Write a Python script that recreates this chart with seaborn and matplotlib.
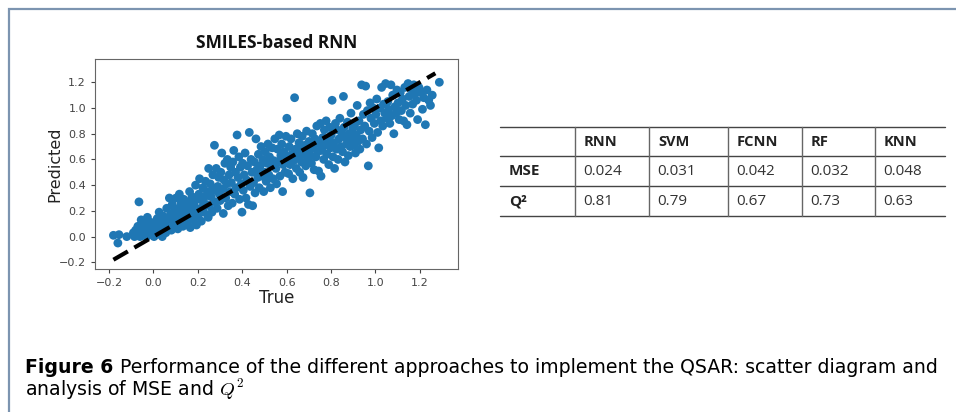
import matplotlib
matplotlib.use("Agg")
import matplotlib.pyplot as plt
import pandas as pd
import seaborn as sns

# scatter values (true value, predicted value)
true_vals = [
    -0.18, -0.16, -0.155, -0.12,
    -0.09, -0.085, -0.08, -0.075, -0.07, -0.065, -0.06, -0.055, -0.052,
    -0.048, -0.044, -0.04, -0.035, -0.03, -0.027, -0.02, -0.015, -0.01, -0.005,
    0.003, 0.008, 0.012, 0.017, 0.022, 0.026, 0.031, 0.035, 0.04, 0.044, 0.048,
    0.052, 0.056, 0.06, 0.064, 0.068, 0.072, 0.077, 0.081, 0.085, 0.09, 0.094, 0.098,
    0.102, 0.106, 0.11, 0.113, 0.117, 0.121, 0.125, 0.129, 0.133, 0.137, 0.141, 0.145, 0.148,
    0.152, 0.155, 0.159, 0.163, 0.166, 0.17, 0.174, 0.178, 0.182, 0.186, 0.19, 0.194, 0.198,
    0.201, 0.205, 0.208, 0.212, 0.216, 0.22, 0.223, 0.227, 0.231, 0.235, 0.239, 0.243, 0.247, 0.249,
    0.252, 0.256, 0.26, 0.264, 0.268, 0.272, 0.275, 0.279, 0.283, 0.287, 0.29, 0.294, 0.297,
    0.301, 0.304, 0.308, 0.312, 0.315, 0.318, 0.322, 0.326, 0.33, 0.333, 0.337, 0.341, 0.345, 0.348,
    0.351, 0.355, 0.358, 0.362, 0.366, 0.37, 0.373, 0.377, 0.381, 0.385, 0.388, 0.392, 0.396, 0.399,
    0.402, 0.405, 0.409, 0.413, 0.417, 0.42, 0.424, 0.428, 0.432, 0.436, 0.44, 0.444, 0.447,
    0.451, 0.455, 0.458, 0.462, 0.466, 0.47, 0.473, 0.477, 0.481, 0.485, 0.489, 0.493, 0.497,
    0.501, 0.504, 0.508, 0.512, 0.516, 0.52, 0.523, 0.527, 0.531, 0.535, 0.539, 0.543, 0.547,
    0.552, 0.555, 0.559, 0.563, 0.567, 0.57, 0.574, 0.578, 0.582, 0.585, 0.589, 0.593, 0.597,
    0.601, 0.605, 0.609, 0.612, 0.616, 0.62, 0.624, 0.628, 0.632, 0.636, 0.64, 0.644, 0.648,
    0.652, 0.656, 0.659, 0.663, 0.667, 0.67, 0.674, 0.678, 0.682, 0.686, 0.69, 0.694, 0.698,
    0.701, 0.705, 0.709, 0.712, 0.716, 0.72, 0.724, 0.728, 0.732, 0.736, 0.74, 0.744, 0.748,
    0.752, 0.755, 0.759, 0.763, 0.767, 0.77, 0.774, 0.778, 0.782, 0.786, 0.79, 0.794, 0.798,
    0.801, 0.805, 0.809, 0.812, 0.816, 0.82, 0.824, 0.828, 0.832, 0.836, 0.84, 0.844, 0.848,
    0.852, 0.856, 0.859, 0.863, 0.867, 0.87, 0.874, 0.878, 0.882, 0.886, 0.89, 0.894, 0.898,
    0.902, 0.906, 0.91, 0.914, 0.918, 0.922, 0.926, 0.93, 0.934, 0.938, 0.942, 0.946,
    0.952, 0.956, 0.96, 0.964, 0.968, 0.972, 0.976, 0.98, 0.985, 0.99, 0.995,
    1.002, 1.006, 1.01, 1.015, 1.02, 1.024, 1.028, 1.033, 1.037, 1.042, 1.046,
    1.052, 1.056, 1.06, 1.065, 1.07, 1.074, 1.078, 1.083, 1.088, 1.093, 1.097,
    1.102, 1.107, 1.112, 1.117, 1.122, 1.127, 1.132, 1.137, 1.142, 1.147,
    1.152, 1.157, 1.162, 1.168, 1.173, 1.178, 1.185, 1.19, 1.196,
    1.205, 1.212, 1.218, 1.225, 1.232, 1.24, 1.248, 1.256, 1.288,
]
pred_vals = [
    0.01, -0.05, 0.015, 0.0,
    0.03, 0.0, 0.05, 0.02, 0.08, 0.27, 0.0, 0.13, 0.04,
    0.01, 0.06, 0.1, 0.03, 0.0, 0.15, 0.07, 0.02, 0.11, 0.05,
    0.0, 0.09, 0.04, 0.14, 0.02, 0.19, 0.07, 0.11, 0.0, 0.16, 0.06,
    0.1, 0.03, 0.22, 0.13, 0.07, 0.3, 0.17, 0.05, 0.25, 0.12, 0.2, 0.09,
    0.3, 0.15, 0.06, 0.22, 0.33, 0.11, 0.26, 0.18, 0.08, 0.29, 0.14, 0.23, 0.2,
    0.1, 0.27, 0.17, 0.35, 0.07, 0.22, 0.31, 0.13, 0.25, 0.19, 0.4, 0.09, 0.29,
    0.16, 0.33, 0.45, 0.22, 0.12, 0.28, 0.38, 0.19, 0.31, 0.43, 0.25, 0.35, 0.15, 0.53,
    0.24, 0.41, 0.31, 0.19, 0.48, 0.36, 0.71, 0.27, 0.53, 0.22, 0.39, 0.46, 0.33,
    0.28, 0.5, 0.65, 0.37, 0.18, 0.44, 0.57, 0.3, 0.41, 0.6, 0.24, 0.48, 0.35, 0.54,
    0.42, 0.26, 0.58, 0.67, 0.33, 0.5, 0.38, 0.79, 0.46, 0.62, 0.29, 0.54, 0.41, 0.19,
    0.57, 0.36, 0.48, 0.65, 0.3, 0.44, 0.55, 0.25, 0.81, 0.39, 0.6, 0.5, 0.24,
    0.42, 0.58, 0.34, 0.76, 0.52, 0.46, 0.64, 0.38, 0.55, 0.7, 0.47, 0.6, 0.35,
    0.5, 0.66, 0.43, 0.57, 0.72, 0.48, 0.62, 0.38, 0.55, 0.69, 0.45, 0.59, 0.76,
    0.53, 0.41, 0.68, 0.58, 0.79, 0.47, 0.63, 0.72, 0.35, 0.56, 0.66, 0.5, 0.78,
    0.92, 0.61, 0.49, 0.7, 0.56, 0.76, 0.64, 0.45, 0.59, 1.08, 0.68, 0.53, 0.8,
    0.62, 0.73, 0.5, 0.67, 0.58, 0.78, 0.46, 0.64, 0.71, 0.55, 0.82, 0.6, 0.68,
    0.74, 0.34, 0.63, 0.57, 0.8, 0.69, 0.52, 0.76, 0.62, 0.86, 0.66, 0.51, 0.72,
    0.88, 0.47, 0.67, 0.77, 0.6, 0.83, 0.71, 0.9, 0.64, 0.75, 0.56, 0.85, 0.69,
    0.79, 1.06, 0.62, 0.73, 0.53, 0.88, 0.68, 0.83, 0.6, 0.76, 0.92, 0.7, 0.81,
    0.66, 1.09, 0.85, 0.58, 0.77, 0.72, 0.89, 0.63, 0.8, 0.7, 0.96, 0.75, 0.84,
    0.71, 0.87, 0.65, 0.79, 1.02, 0.74, 0.9, 0.68, 0.83, 1.18, 0.76, 0.95,
    0.86, 1.17, 0.72, 0.98, 0.55, 0.82, 1.04, 0.92, 0.77, 1.0, 0.88,
    0.95, 1.07, 0.81, 0.69, 1.0, 0.9, 1.16, 0.86, 1.03, 0.96, 1.19,
    0.92, 1.05, 0.99, 0.88, 1.18, 0.94, 1.1, 0.8, 1.01, 0.96, 1.14,
    1.04, 0.91, 1.12, 0.98, 1.07, 0.9, 1.16, 1.02, 0.87, 1.19,
    1.09, 0.96, 1.15, 1.03, 1.18, 1.11, 1.06, 0.91, 1.16,
    1.12, 0.99, 1.08, 0.87, 1.14, 1.06, 1.02, 1.1, 1.2,
]
ideal_line = [-0.18, 1.27]
tick_vals = [-0.2, 0.0, 0.2, 0.4, 0.6, 0.8, 1.0, 1.2]

models = ["RNN", "SVM", "FCNN", "RF", "KNN"]
mse_vals = ["0.024", "0.031", "0.042", "0.032", "0.048"]
q2_vals = ["0.81", "0.79", "0.67", "0.73", "0.63"]
row_names = ["MSE", "Q\u00b2"]

df = pd.DataFrame({"True": true_vals, "Predicted": pred_vals})

sns.set_style("ticks")
plt.rcParams["font.family"] = ["DejaVu Sans"]
plt.rcParams["mathtext.fontset"] = "cm"

W, H = 956, 412
fig = plt.figure(figsize=(W / 100, H / 100), dpi=100)
fig.patch.set_facecolor("white")

# scatter panel
ax = fig.add_axes([95 / W, 1 - 269 / H, 363 / W, 210 / H])
sns.scatterplot(data=df, x="True", y="Predicted", ax=ax, color="#1f77b4",
                s=40, edgecolor="none", linewidth=0, legend=False)
ax.plot(ideal_line, ideal_line, color="black", lw=3, ls="--", dashes=(4, 1.8))
ax.set_xlim(-0.263, 1.372)
ax.set_ylim(-0.252, 1.381)
ax.set_xticks(tick_vals)
ax.set_yticks(tick_vals)
ax.tick_params(labelsize=8, colors="#444444", length=3, width=0.8)
for sp in ax.spines.values():
    sp.set_color("#666666")
    sp.set_linewidth(0.8)
ax.set_xlabel("True", fontsize=12, labelpad=1, color="#222222")
ax.set_ylabel("Predicted", fontsize=11.5, color="#222222")
ax.yaxis.set_label_coords(-0.09, 0.5)
ax.set_title("SMILES-based RNN", fontsize=12.5, fontweight="bold",
             family=["Open Sans", "DejaVu Sans"], pad=8, color="#111111")

# overlay in pixel units for the table, caption and frame
ov = fig.add_axes([0, 0, 1, 1], zorder=-1)
ov.set_xlim(0, W)
ov.set_ylim(H, 0)
ov.axis("off")

col_edges = [500, 575, 649, 728, 802, 875, 945]
row_edges = [127, 156, 186, 216]
for y in row_edges:
    ov.plot([col_edges[0], col_edges[-1]], [y, y], color="#444444", lw=1.0)
for x in col_edges[1:-1]:
    ov.plot([x, x], [row_edges[0], row_edges[-1]], color="#666666", lw=1.0)

tfont = ["Open Sans", "DejaVu Sans"]
for i, m in enumerate(models):
    ov.text(col_edges[i + 1] + 9, (row_edges[0] + row_edges[1]) / 2, m,
            ha="left", va="center", fontsize=10.5, fontweight="bold",
            family=tfont, color="#222222")
for r, (name, vals) in enumerate(zip(row_names, [mse_vals, q2_vals])):
    yc = (row_edges[r + 1] + row_edges[r + 2]) / 2
    ov.text(col_edges[0] + 9, yc, name, ha="left", va="center", fontsize=11,
            fontweight="bold", family=tfont, color="#222222")
    for i, v in enumerate(vals):
        ov.text(col_edges[i + 1] + 8, yc, v, ha="left", va="center",
                fontsize=11, family=tfont, color="#333333")

# frame lines
ov.plot([9, 9, W], [H, 9, 9], color="#7c94b0", lw=1.6, solid_joinstyle="miter")

# caption
cfont = ["DejaVu Sans"]
bold = ov.text(25, 373, "Figure 6", ha="left", va="baseline", fontsize=13.6,
               fontweight="bold", family=cfont, color="black")
fig.canvas.draw()
bb = bold.get_window_extent().transformed(ov.transData.inverted())
ov.text(bb.x1 + 7, 373,
        "Performance of the different approaches to implement the QSAR: scatter diagram and",
        ha="left", va="baseline", fontsize=13.6, family=cfont, color="black")
ov.text(25, 396, "analysis of MSE and $Q^2$", ha="left", va="baseline",
        fontsize=13.6, family=cfont, color="black")

fig.savefig("out.png", dpi=100)
